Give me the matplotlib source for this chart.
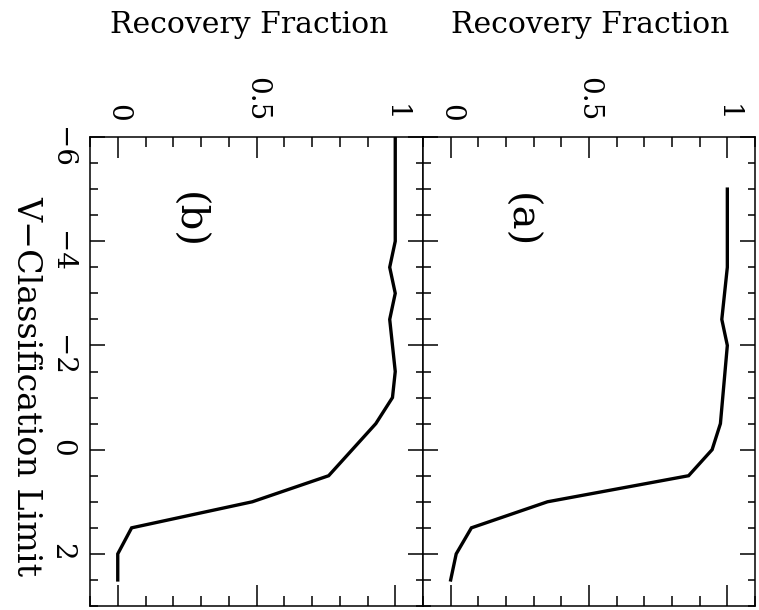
import matplotlib
matplotlib.use("Agg")
import matplotlib.pyplot as plt
from matplotlib.ticker import MultipleLocator

# Recovery fraction as a function of the V classification limit
v_a = [-5.0, -3.5, -2.5, -2.0, -0.5, 0.0, 0.5, 1.0, 1.5, 2.0, 2.5]
frac_a = [1.0, 1.0, 0.98, 1.0, 0.975, 0.945, 0.86, 0.35, 0.075, 0.02, 0.0]

v_b = [-6.0, -4.0, -3.5, -3.0, -2.5, -1.5, -1.0, -0.5, 0.0, 0.5, 1.0, 1.5, 2.0, 2.5]
frac_b = [1.0, 1.0, 0.98, 1.0, 0.98, 1.0, 0.99, 0.93, 0.845, 0.76, 0.485, 0.05, 0.0, 0.0]

panel_tags = ["(b)", "(a)"]
xlabel = "Recovery Fraction"
ylabel = "V\u2212Classification Limit"

plt.rcParams["font.family"] = "DejaVu Serif"
plt.rcParams["axes.unicode_minus"] = True

W, H = 759, 610
fig = plt.figure(figsize=(W / 100, H / 100), dpi=100)

# panel boxes in pixels: (left, right), top / bottom shared
boxes = [(90, 423), (423, 755)]
top_px, bot_px = 137, 606
title_cx = [249, 590]

for i, (tag, v, f) in enumerate(zip(panel_tags, [v_b, v_a], [frac_b, frac_a])):
    l, r = boxes[i]
    ax = fig.add_axes([l / W, (H - bot_px) / H, (r - l) / W, (bot_px - top_px) / H])
    ax.plot(f, v, color="black", lw=2.4, solid_joinstyle="miter")

    ax.set_xlim(-0.1, 1.1)
    ax.set_ylim(3.0, -6.0)

    ax.xaxis.set_major_locator(MultipleLocator(0.5))
    ax.xaxis.set_minor_locator(MultipleLocator(0.1))
    ax.yaxis.set_major_locator(MultipleLocator(2))
    ax.yaxis.set_minor_locator(MultipleLocator(0.5))
    ax.xaxis.set_major_formatter(lambda x, p: f"{x:g}")

    ax.tick_params(axis="x", which="both", direction="in", top=True, bottom=True,
                   labeltop=True, labelbottom=False, width=1.1, color="black")
    ax.tick_params(axis="x", which="major", length=15, pad=11,
                   labelsize=20, labelrotation=-90)
    ax.tick_params(axis="x", which="minor", length=7.2)

    ax.tick_params(axis="y", which="both", direction="in", left=True, right=True,
                   labelleft=(i == 0), labelright=False, width=1.1, color="black")
    ax.tick_params(axis="y", which="major", length=10.8, pad=11,
                   labelsize=20, labelrotation=-90)
    ax.tick_params(axis="y", which="minor", length=5.4)

    for s in ax.spines.values():
        s.set_linewidth(1.1)

    ax.text(0.25, -4.4, tag, rotation=-90, ha="center", va="center", fontsize=29)

    fig.text(title_cx[i] / W, 1 - 33 / H, xlabel, ha="center", va="baseline",
             fontsize=21.5)

fig.text(26 / W, 1 - 386 / H, ylabel, rotation=-90, ha="center", va="center",
         fontsize=24)

fig.savefig("out.png", dpi=100)
